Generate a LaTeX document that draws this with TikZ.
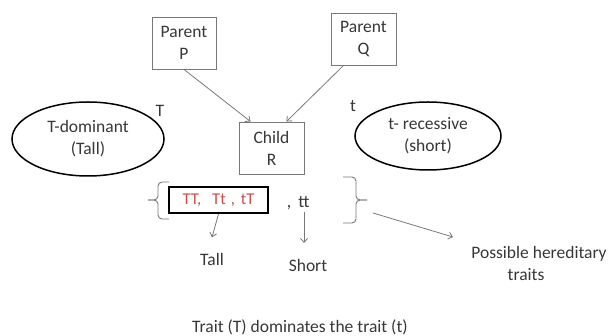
\documentclass[tikz,border=0pt]{standalone}
\usepackage{fontspec}
\setmainfont{Carlito}
\usetikzlibrary{arrows.meta,shapes.geometric,positioning}
\definecolor{linegray}{RGB}{120,120,120}
\definecolor{textgray}{RGB}{55,55,55}
\definecolor{traitred}{RGB}{205,75,75}

\begin{document}
\begin{tikzpicture}[x=1pt,y=-1pt,
		every node/.style={font=\fontsize{17.5}{22}\selectfont, text=textgray},
		parentbox/.style={draw=linegray, line width=0.9pt, minimum width=64pt, minimum height=52pt, align=center, inner sep=0pt},
		traitoval/.style={ellipse, draw=black, line width=1.5pt, align=center, inner sep=0pt},
		thinarrow/.style={draw=linegray, line width=0.8pt, -{Straight Barb[length=4pt,width=7pt]}},
		braceline/.style={draw=linegray, line width=0.9pt, rounded corners=4pt}]
	\useasboundingbox (0,0) rectangle (608,336);
	% parents and child
	\node [parentbox] (parentp) at (184,43) {Parent\\P};
	\node [parentbox, minimum width=65pt] (parentq) at (363.5,39) {Parent\\Q};
	\node [parentbox, minimum width=65pt] (childr) at (271.5,148) {Child\\R};
	\draw [thinarrow] (parentp.south) -- ([xshift=12pt]childr.north west);
	\draw [thinarrow] ([xshift=-20pt]parentq.south) -- ([xshift=-18pt]childr.north east);
	% traits
	\node [traitoval, minimum width=152pt, minimum height=74pt] (dominant) at (88,139) {T-dominant\\(Tall)};
	\node [traitoval, minimum width=146pt, minimum height=68pt] (recessive) at (428,136) {t- recessive\\(short)};
	\node (bigt) at (160,111) {T};
	\node (smallt) at (353,106) {t};
	% possible combinations
	\node [draw=black, line width=1.8pt, minimum width=99pt, minimum height=26pt, inner sep=0pt, text=traitred, font=\fontsize{16.5}{18}\selectfont] (tallset) at (218.5,200) {TT,\hspace{11pt}Tt\hspace{5pt},\hspace{6pt}tT};
	\node [anchor=base] (comma) at (289,208) {,};
	\node [anchor=base] (tt) at (304,208) {tt};
	\draw [braceline] (169,182) -- (158,182) -- (158,200) -- (148,200);
	\draw [braceline] (148,200) -- (158,200) -- (158,219) -- (169,219);
	\draw [braceline] (343,177) -- (356,177) -- (356,200) -- (367,200);
	\draw [braceline] (367,200) -- (356,200) -- (356,223) -- (343,223);
	\node (tall) at (212,259) {Tall};
	\node (short) at (308,265) {Short};
	\node [align=center] (possible) at (539,263.5) {Possible hereditary\\traits\hspace*{26pt}};
	\coordinate (shortin) at (304,243);
	\coordinate (bracetip) at (373,213);
	\coordinate (possiblein) at (453,237);
	\draw [thinarrow] (tallset.south) -- ([yshift=12pt]tall.north);
	\draw [thinarrow] (tt.south) -- (shortin);
	\draw [thinarrow] (bracetip) -- (possiblein);
	\node (caption) at (300,327) {Trait (T) dominates the trait (t)};
\end{tikzpicture}
\end{document}
